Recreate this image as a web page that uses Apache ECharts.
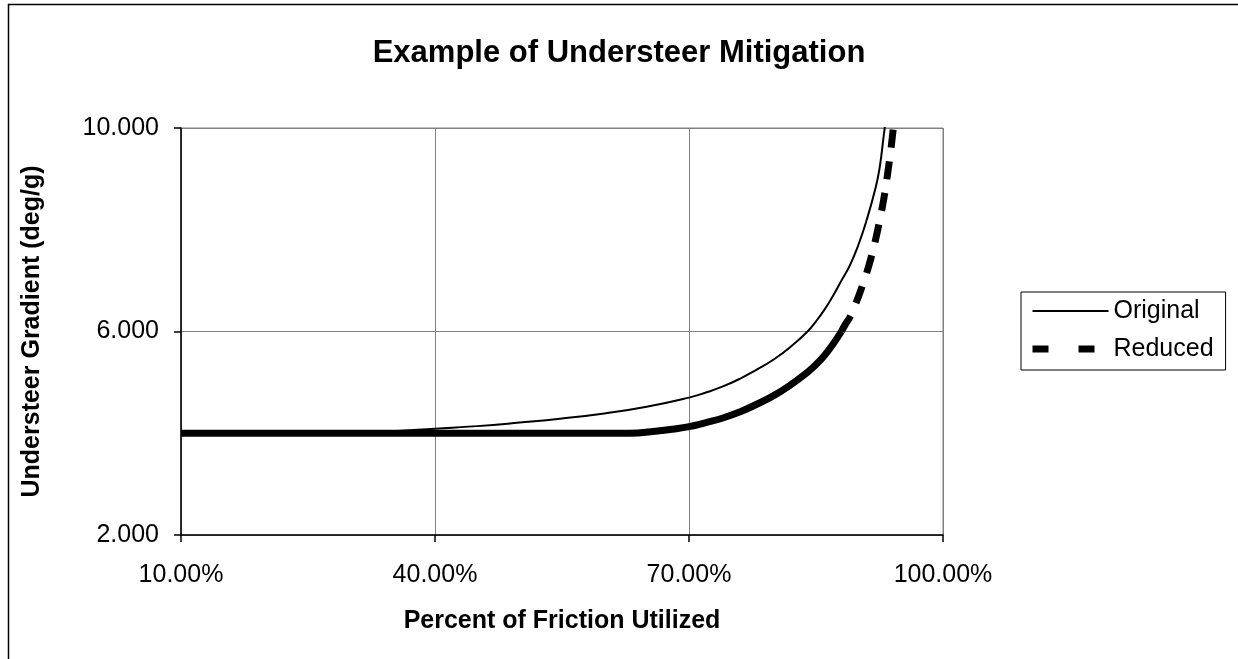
<!DOCTYPE html>
<html>

<head>
    <title>Example of Understeer Mitigation</title>
    <meta charset="utf-8">
    <script src="https://cdn.jsdelivr.net/npm/echarts@6/dist/echarts.min.js"></script>
    <style>
        html, body { margin: 0; padding: 0; background: #fff; }
    </style>
</head>

<body>
    <!-- chart container, same size as the window -->
    <div id="main" style="width: 1238px;height:659px;"></div>

    <script type="text/javascript">
        // Original curve (percent of friction utilized, understeer gradient deg/g)
        var origX = [10, 15, 20, 25, 30, 35, 40, 45, 50, 55, 60, 65, 70, 72, 74, 76, 78, 80, 82, 84,
            85, 86, 87, 88, 89, 90, 91, 92, 92.5, 93, 93.5];
        var origY = [4.00, 4.00, 4.00, 4.00, 4.01, 4.04, 4.09, 4.14, 4.21, 4.29, 4.39, 4.52, 4.70, 4.80, 4.92, 5.07, 5.25, 5.45, 5.70, 6.00,
            6.20, 6.43, 6.70, 7.00, 7.30, 7.70, 8.20, 8.80, 9.20, 9.85, 10.5];

        // Reduced curve
        var redX = [10, 15, 20, 25, 30, 35, 40, 45, 50, 55, 60, 63, 66, 68, 70, 72, 74, 76, 78, 80,
            82, 84, 85, 86, 87, 88, 88.5, 89, 89.5, 90, 90.5, 91, 91.5, 92, 92.5, 93, 93.5, 94, 94.3];
        var redY = [4.00, 4.00, 4.00, 4.00, 4.00, 4.00, 4.00, 4.00, 4.00, 4.00, 4.00, 4.00, 4.04, 4.08, 4.13, 4.21, 4.30, 4.42, 4.57, 4.74,
            4.95, 5.20, 5.35, 5.53, 5.75, 6.00, 6.15, 6.28, 6.47, 6.68, 6.91, 7.16, 7.45, 7.78, 8.17, 8.60, 9.15, 9.80, 10.3];

        // tick labels
        var xTicks = [10, 40, 70, 100];
        var yTicks = [2, 6, 10];

        // the dense part of the reduced line looks solid, the steep part shows its dashes
        var splitAt = redX.indexOf(88);

        function pairs(xs, ys) {
            return xs.map(function (x, i) { return [x, ys[i]]; });
        }
        var origData = pairs(origX, origY);
        var redData = pairs(redX, redY);

        var font = 'Liberation Sans, Arial, sans-serif';
        var myChart = echarts.init(document.getElementById('main'));

        var option = {
            backgroundColor: '#fff',
            animation: false,
            textStyle: { fontFamily: font, color: '#000' },
            title: {
                text: 'Example of Understeer Mitigation',
                left: 'center',
                top: 33,
                textStyle: { fontFamily: font, fontSize: 31, fontWeight: 'bold', color: '#000' }
            },
            // outer chart frame
            graphic: [{
                type: 'rect',
                shape: { x: 8.5, y: 4.5, width: 1400, height: 800 },
                style: { fill: null, stroke: '#000', lineWidth: 1.5 },
                silent: true
            }],
            legend: {
                orient: 'vertical',
                left: 1021,
                top: 292,
                padding: [6, 12, 8, 8],
                itemGap: 12,
                itemWidth: 76,
                itemHeight: 14,
                borderColor: '#000',
                borderWidth: 1,
                itemStyle: { opacity: 0 },
                textStyle: { fontFamily: font, fontSize: 25, color: '#000', lineHeight: 26 },
                data: [
                    { name: 'Original', lineStyle: { width: 2 } },
                    { name: 'Reduced', lineStyle: { type: [16, 30], width: 7 } }
                ]
            },
            grid: {
                left: 181,
                top: 128,
                width: 762,
                height: 407,
                show: true,
                borderColor: '#808080',
                borderWidth: 1
            },
            xAxis: {
                type: 'value',
                min: xTicks[0],
                max: xTicks[xTicks.length - 1],
                interval: 30,
                name: 'Percent of Friction Utilized',
                nameLocation: 'middle',
                nameGap: 74,
                nameTextStyle: { fontFamily: font, fontSize: 25, fontWeight: 'bold', color: '#000' },
                axisLine: { lineStyle: { color: '#000', width: 1.5 } },
                axisTick: { inside: false, length: 7, lineStyle: { color: '#000', width: 1.5 } },
                axisLabel: {
                    margin: 28,
                    fontFamily: font,
                    fontSize: 25,
                    color: '#000',
                    formatter: function (v) { return v.toFixed(2) + '%'; }
                },
                splitLine: { lineStyle: { color: '#808080', width: 1 } }
            },
            yAxis: {
                type: 'value',
                min: yTicks[0],
                max: yTicks[yTicks.length - 1],
                interval: 4,
                name: 'Understeer Gradient (deg/g)',
                nameLocation: 'middle',
                nameRotate: 90,
                nameGap: 136,
                nameTextStyle: { fontFamily: font, fontSize: 25, fontWeight: 'bold', color: '#000' },
                axisLine: { show: true, lineStyle: { color: '#000', width: 1.5 } },
                axisTick: { show: true, inside: false, length: 7, lineStyle: { color: '#000', width: 1.5 } },
                axisLabel: {
                    margin: 22,
                    fontFamily: font,
                    fontSize: 25,
                    color: '#000',
                    formatter: function (v) { return v.toFixed(3); }
                },
                splitLine: { lineStyle: { color: '#808080', width: 1 } }
            },
            series: [{
                name: 'Original',
                type: 'line',
                data: origData,
                symbol: 'none',
                smooth: 0.5,
                clip: true,
                lineStyle: { color: '#000', width: 2 },
                itemStyle: { color: '#000' },
                z: 3
            }, {
                name: 'Reduced part',
                type: 'line',
                data: redData.slice(0, splitAt + 1),
                symbol: 'none',
                smooth: 0.5,
                clip: true,
                lineStyle: { color: '#000', width: 7, cap: 'butt' },
                itemStyle: { color: '#000' },
                z: 2
            }, {
                name: 'Reduced',
                type: 'line',
                data: redData.slice(splitAt),
                symbol: 'none',
                smooth: 0.5,
                clip: true,
                lineStyle: { color: '#000', width: 7, type: [18, 14], cap: 'butt' },
                itemStyle: { color: '#000' },
                z: 2
            }]
        };

        myChart.setOption(option);
    </script>
</body>

</html>
